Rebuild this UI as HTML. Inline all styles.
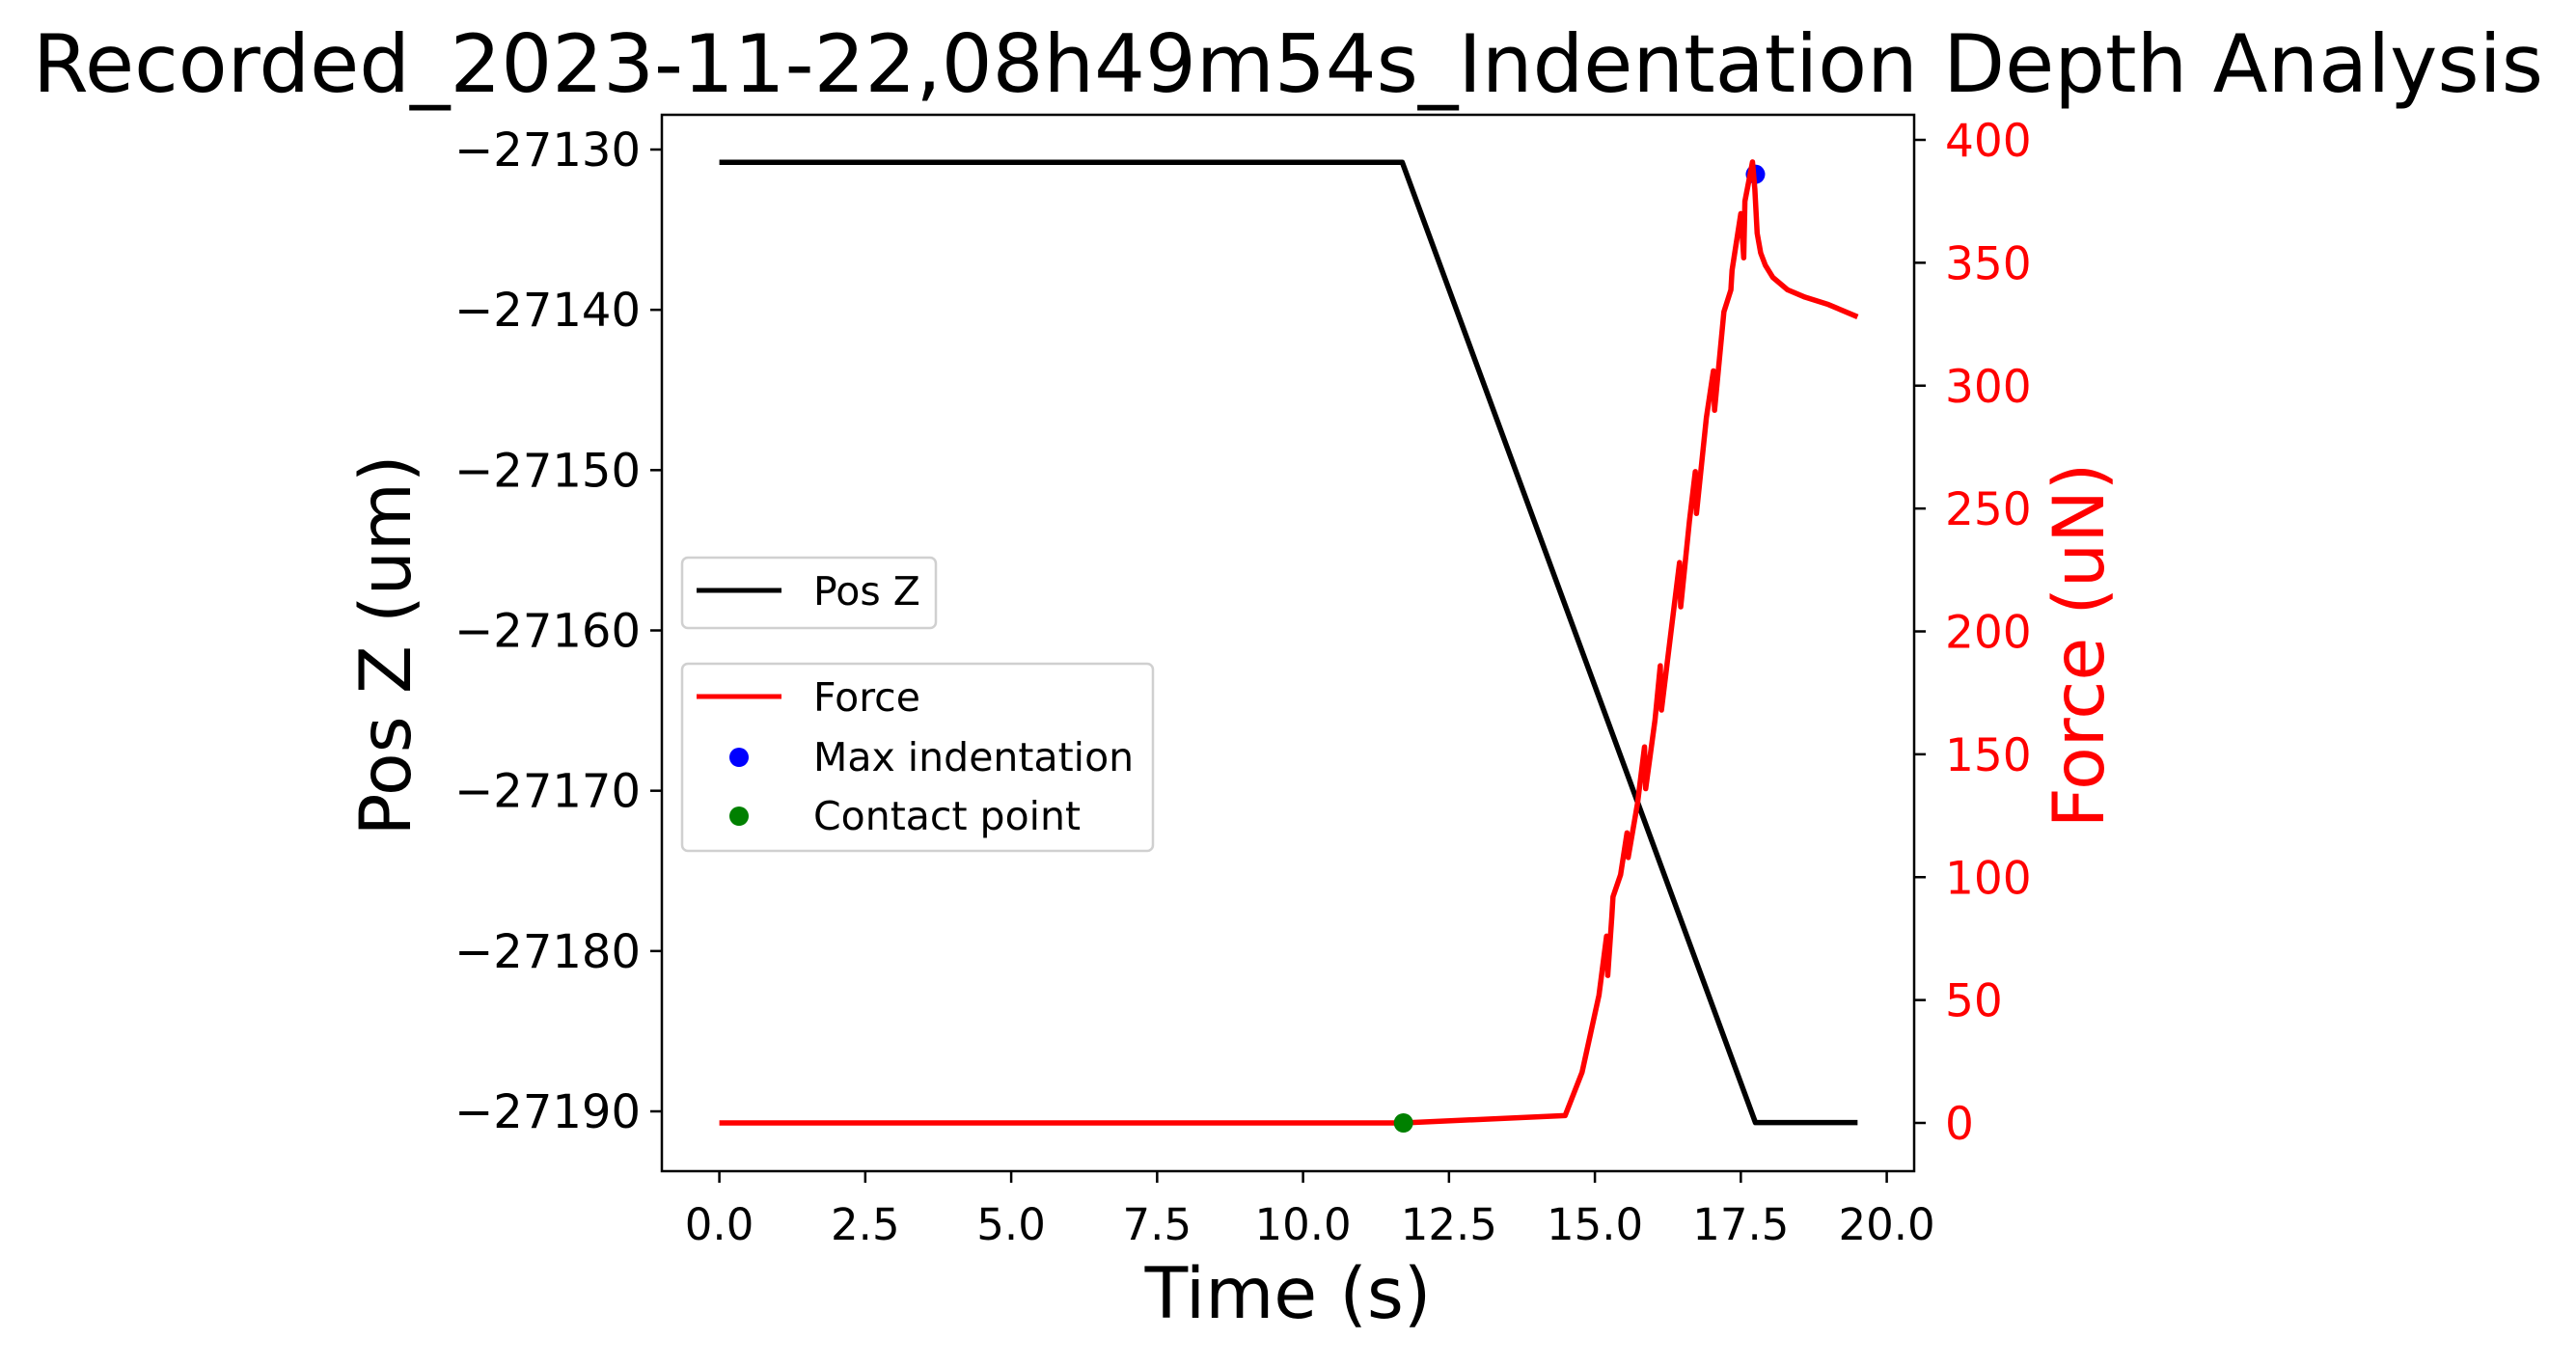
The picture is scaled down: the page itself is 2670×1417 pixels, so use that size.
<!DOCTYPE html>
<html><head><meta charset="utf-8"><style>
html,body{margin:0;padding:0;background:#fff;}
svg text{font-family:"DejaVu Sans","Liberation Sans",sans-serif;}
</style></head><body>
<svg id="chart" width="2670" height="1412" viewBox="0 0 2670 1412" xmlns="http://www.w3.org/2000/svg">
<rect width="2670" height="1412" fill="#fff"/>
<text x="1335" y="95" font-size="83" text-anchor="middle" textLength="2602" lengthAdjust="spacingAndGlyphs">Recorded_2023-11-22,08h49m54s_Indentation Depth Analysis</text>
<g id="plot"></g>
<rect x="686" y="119" width="1298" height="1095" fill="none" stroke="#000" stroke-width="2.5"/>
<text x="1335" y="1366" font-size="73" text-anchor="middle">Time (s)</text>
<text x="0" y="0" font-size="73" text-anchor="middle" transform="translate(425,669) rotate(-90)">Pos Z (um)</text>
<text x="0" y="0" font-size="73" fill="#ff0000" text-anchor="middle" transform="translate(2180,669) rotate(-90)">Force (uN)</text>
<g>
<rect x="707" y="578" width="263" height="73" rx="6" fill="#fff" fill-opacity="0.8" stroke="#d0d0d0" stroke-width="2.5"/>
<line x1="722" y1="612" x2="810" y2="612" stroke="#000" stroke-width="5"/>
<text x="843" y="627" font-size="41">Pos Z</text>
</g>
<g>
<rect x="707" y="688" width="488" height="194" rx="6" fill="#fff" fill-opacity="0.8" stroke="#d0d0d0" stroke-width="2.5"/>
<line x1="722" y1="722" x2="810" y2="722" stroke="#ff0000" stroke-width="5"/>
<text x="843" y="737" font-size="41">Force</text>
<circle cx="766" cy="785" r="10" fill="#0000ff"/>
<text x="843" y="799" font-size="41">Max indentation</text>
<circle cx="766" cy="846" r="10" fill="#008000"/>
<text x="843" y="860" font-size="41">Contact point</text>
</g>
</svg>
<script>
const xTicks = [0, 2.5, 5, 7.5, 10, 12.5, 15, 17.5, 20];
const xTickLabels = ["0.0","2.5","5.0","7.5","10.0","12.5","15.0","17.5","20.0"];
const posTicks = [-27130, -27140, -27150, -27160, -27170, -27180, -27190];
const forceTicks = [0, 50, 100, 150, 200, 250, 300, 350, 400];
const posTime = [0, 11.7, 17.75, 19.5];
const posValues = [-27130.8, -27130.8, -27190.7, -27190.7];
const forceTime = [0, 11.72, 14.49, 14.78, 15.07, 15.20, 15.22, 15.29, 15.31, 15.44, 15.55, 15.57, 15.73, 15.85, 15.87, 16.03, 16.12, 16.14, 16.32, 16.45, 16.47, 16.62, 16.72, 16.74, 16.91, 17.03, 17.05, 17.21, 17.33, 17.35, 17.50, 17.55, 17.57, 17.70, 17.74, 17.78, 17.84, 17.92, 18.05, 18.3, 18.6, 19.0, 19.5];
const forceValues = [0, 0, 3, 20.6, 52, 76, 60, 84, 92, 101, 118, 108, 130, 153, 136, 164, 186, 168, 203, 228, 210, 245, 265, 248, 287, 306, 290, 330, 339, 347, 370, 352, 375, 391, 380, 362, 354, 349, 344, 339, 336, 333, 328];
const maxPoint = [17.75, 386];
const contactPoint = [11.72, 0];

const NS = "http://www.w3.org/2000/svg";
const plot = document.getElementById("plot");
function xs(t){ return 745.6 + (t - 0) * 60.5; }
function yPos(v){ return 155 + (-27130 - v) * 99.7 / 6; }
function yF(f){ return 1164 - f * 2.5475; }
function mk(tag, attrs){ const e = document.createElementNS(NS, tag); for (const k in attrs) e.setAttribute(k, attrs[k]); return e; }
const svg = document.getElementById("chart");

xTicks.forEach((t, i) => {
  const l = mk("line", {x1: xs(t), x2: xs(t), y1: 1214, y2: 1226, stroke: "#000", "stroke-width": 2.5});
  
  
  svg.appendChild(l);
  const tx = mk("text", {x: xs(t), y: 1285, "font-size": 45, "text-anchor": "middle"});
  tx.textContent = xTickLabels[i];
  
  
  svg.appendChild(tx);
});
posTicks.forEach(v => {
  const l = mk("line", {x1: 674, x2: 686, y1: yPos(v), y2: yPos(v), stroke: "#000", "stroke-width": 2.5});
  
  
  svg.appendChild(l);
  const tx = mk("text", {x: 664, y: yPos(v) + 17, "font-size": 48, "text-anchor": "end"});
  tx.textContent = "\u2212" + Math.abs(v);
  
  
  svg.appendChild(tx);
});
forceTicks.forEach(v => {
  const l = mk("line", {x1: 1984, x2: 1996, y1: yF(v), y2: yF(v), stroke: "#000", "stroke-width": 2.5});
  
  
  svg.appendChild(l);
  const tx = mk("text", {x: 2016, y: yF(v) + 17, "font-size": 47, fill: "#ff0000"});
  tx.textContent = String(v);
  
  
  svg.appendChild(tx);
});

const posLine = mk("polyline", {points: posTime.map((t, i) => xs(t) + "," + yPos(posValues[i])).join(" "), fill: "none", stroke: "#000", "stroke-width": 5.5, "stroke-linejoin": "round"});


plot.appendChild(posLine);
const fLine = mk("polyline", {points: forceTime.map((t, i) => xs(t) + "," + yF(forceValues[i])).join(" "), fill: "none", stroke: "#ff0000", "stroke-width": 5.5, "stroke-linejoin": "round"});


plot.appendChild(fLine);
const mp = mk("circle", {cx: xs(maxPoint[0]), cy: yF(maxPoint[1]), r: 10, fill: "#0000ff"});


plot.insertBefore(mp, fLine);
const cp = mk("circle", {cx: xs(contactPoint[0]), cy: yF(contactPoint[1]), r: 10, fill: "#008000"});


plot.appendChild(cp);
</script>
</body></html>
